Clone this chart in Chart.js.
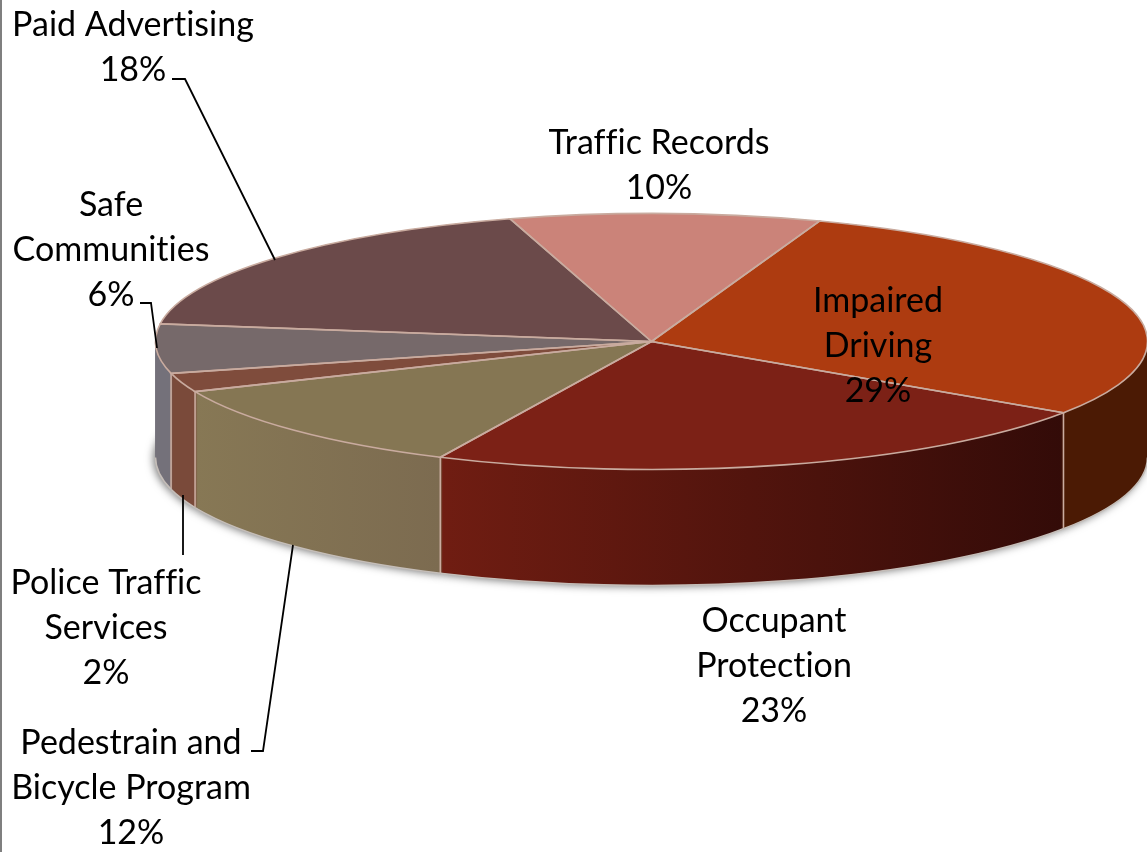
<!DOCTYPE html>
<html>
<head>
<meta charset="utf-8">
<title>Pie</title>
<script src="https://cdn.jsdelivr.net/npm/chart.js@4/dist/chart.umd.min.js"></script>
<style>
  html, body { margin: 0; padding: 0; background: #fff; overflow: hidden; }
  canvas { display: block; }
</style>
</head>
<body>
<canvas id="chartPie" width="1147" height="852"></canvas>
<script>
const categories = ['Impaired Driving', 'Occupant Protection', 'Pedestrain and Bicycle Program', 'Police Traffic Services', 'Safe Communities', 'Paid Advertising', 'Traffic Records'];
const values = [28.9, 22.6, 11.6, 2.4, 6.2, 18.2, 10.1];

const topColors = ['#ad3b10', '#7c2116', '#857653', '#7f4c3c', '#76696a', '#6b4a4a', '#cb8379'];
const wallLeft = ['#4b1a04', '#701d12', '#877855', '#7a4a3a', '#74717a', '#5a3e3e', '#a86c64'];
const wallRight = ['#4b1a04', '#330b08', '#7c6b50', '#7a4a3a', '#74717a', '#5a3e3e', '#a86c64'];

// how the label of each slice is broken and where it sits [center x, first line y]
const labelLines = [['Impaired', 'Driving'], ['Occupant', 'Protection'], ['Pedestrain and', 'Bicycle Program'], ['Police Traffic', 'Services'], ['Safe', 'Communities'], ['Paid Advertising'], ['Traffic Records']];
const labelPos = [[878, 301], [774, 621], [131, 743], [106, 583], [111, 205], [133, 25], [659, 143]];
const lineGap = 45;

const leaders = [
  [[172, 79], [185, 79], [275, 260]],
  [[140, 303], [151, 303], [157, 348]],
  [[183, 495], [183, 555]],
  [[251, 751], [263, 751], [293, 545]]
];

// the tilted pie
const pieCenter = [651.5, 341.5];
const pieRx = 496;
const pieRy = 128;
const pieDepth = 116;
const edgeColor = '#c9ab9f';
const rimColor = '#c4bdb8';

function tilt(ctx, el, drop) {
  ctx.translate(pieCenter[0], pieCenter[1] + drop);
  ctx.scale(pieRx / el.outerRadius, pieRy / el.outerRadius);
  ctx.translate(-el.x, -el.y);
}

function drawWalls(chart) {
  const ctx = chart.ctx;
  const arcs = chart.getDatasetMeta(0).data;
  const grads = arcs.map(function (el, i) {
    const x1 = el.x + Math.cos(el.startAngle) * el.outerRadius;
    const x2 = el.x + Math.cos(el.endAngle) * el.outerRadius;
    const g = ctx.createLinearGradient(Math.min(x1, x2), 0, Math.max(x1, x2), 0);
    g.addColorStop(0, wallLeft[i]);
    g.addColorStop(1, wallRight[i]);
    return g;
  });
  for (let d = pieDepth; d >= 0; d--) {
    arcs.forEach(function (el, i) {
      const saved = el.options;
      ctx.save();
      if (d === pieDepth) {
        ctx.shadowColor = 'rgba(0,0,0,0.55)';
        ctx.shadowBlur = 8;
        ctx.shadowOffsetX = -2;
        ctx.shadowOffsetY = 1;
      }
      tilt(ctx, el, d);
      el.options = Object.assign({}, saved, { backgroundColor: grads[i] });
      el.draw(ctx);
      el.options = saved;
      ctx.restore();
    });
  }
}

function strokeEdges(chart) {
  const ctx = chart.ctx;
  const arcs = chart.getDatasetMeta(0).data;
  ctx.lineWidth = 1.6;
  arcs.forEach(function (el) {
    // top face outline, built tilted and stroked flat so the line keeps its width
    ctx.strokeStyle = edgeColor;
    ctx.save();
    tilt(ctx, el, 0);
    ctx.beginPath();
    ctx.moveTo(el.x, el.y);
    ctx.arc(el.x, el.y, el.outerRadius, el.startAngle, el.endAngle);
    ctx.closePath();
    ctx.restore();
    ctx.stroke();

    // seam on the wall, only where the slice edge faces us
    if (Math.sin(el.endAngle) > 0) {
      const px = el.x + Math.cos(el.endAngle) * el.outerRadius;
      const py = el.y + Math.sin(el.endAngle) * el.outerRadius;
      ctx.save();
      tilt(ctx, el, 0);
      ctx.beginPath();
      ctx.moveTo(px, py);
      ctx.restore();
      ctx.save();
      tilt(ctx, el, pieDepth);
      ctx.lineTo(px, py);
      ctx.restore();
      ctx.stroke();
    }

    // bottom rim, front half only
    const a0 = Math.max(el.startAngle, 0);
    const a1 = Math.min(el.endAngle, Math.PI);
    if (a1 > a0) {
      ctx.strokeStyle = rimColor;
      ctx.save();
      tilt(ctx, el, pieDepth);
      ctx.beginPath();
      ctx.arc(el.x, el.y, el.outerRadius, a0, a1);
      ctx.restore();
      ctx.stroke();
    }
  });
}

const pie3d = {
  id: 'pie3d',
  beforeDraw(chart) {
    const ctx = chart.ctx;
    ctx.save();
    ctx.fillStyle = '#fff';
    ctx.fillRect(0, 0, chart.width, chart.height);
    ctx.fillStyle = '#7f7f7f';
    ctx.fillRect(0, 0, 2, chart.height);
    ctx.restore();
  },
  beforeDatasetsDraw(chart) {
    drawWalls(chart);
    const ctx = chart.ctx;
    ctx.save();
    tilt(ctx, chart.getDatasetMeta(0).data[0], 0);
  },
  afterDatasetsDraw(chart) {
    const ctx = chart.ctx;
    ctx.restore();
    strokeEdges(chart);

    ctx.save();
    ctx.strokeStyle = '#000';
    ctx.lineWidth = 1.8;
    leaders.forEach(function (pts) {
      ctx.beginPath();
      pts.forEach(function (p, i) {
        if (i === 0) ctx.moveTo(p[0], p[1]);
        else ctx.lineTo(p[0], p[1]);
      });
      ctx.stroke();
    });

    ctx.fillStyle = '#000';
    ctx.font = '34px Lato';
    ctx.letterSpacing = '0.01px'; // stops the "ti" ligature of Lato
    ctx.textAlign = 'center';
    ctx.textBaseline = 'middle';
    categories.forEach(function (name, i) {
      const lines = labelLines[i].concat([Math.round(values[i]) + '%']);
      lines.forEach(function (line, n) {
        ctx.fillText(line, labelPos[i][0], labelPos[i][1] + n * lineGap);
      });
    });
    ctx.restore();
  }
};

new Chart(document.getElementById('chartPie').getContext('2d'), {
  type: 'pie',
  data: {
    labels: categories,
    datasets: [{
      data: values,
      backgroundColor: topColors,
      borderWidth: 0
    }]
  },
  options: {
    responsive: false,
    animation: false,
    rotation: 19.8,
    plugins: {
      legend: { display: false },
      tooltip: { enabled: false }
    }
  },
  plugins: [pie3d]
});
</script>
</body>
</html>
